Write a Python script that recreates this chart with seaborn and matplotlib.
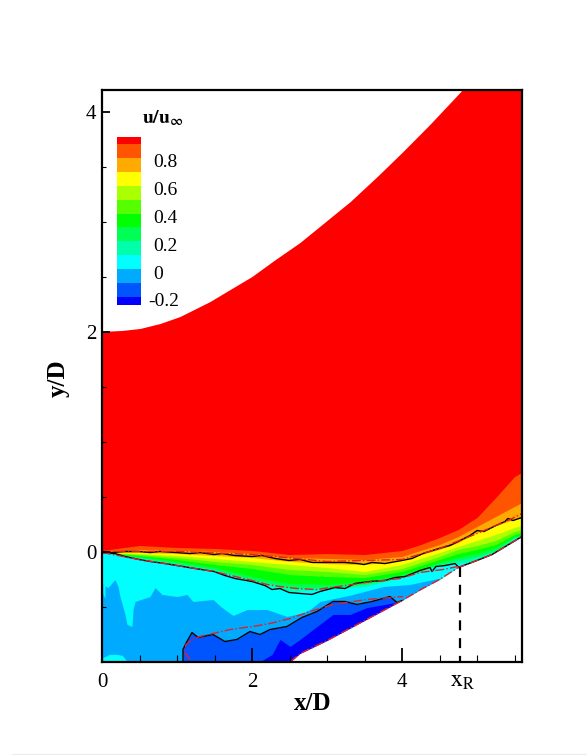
import matplotlib
matplotlib.use('Agg')
import matplotlib.pyplot as plt
from matplotlib.lines import Line2D
import seaborn as sns

# shock edge of the field
top_x = [0, .267, .507, .773, 1.04, 1.44, 1.707, 2, 2.293, 2.64, 3, 3.31, 3.67, 4, 4.37, 4.81, 5.6]
top_y = [2.005, 2.014, 2.032, 2.077, 2.141, 2.277, 2.386, 2.505, 2.65, 2.814, 3.014, 3.186, 3.414, 3.632, 3.886,
         4.205, 4.205]

# wall
wall_x = [2.507, 2.64, 3, 3.5, 4, 4.25, 4.5, 4.75, 5, 5.2, 5.6]
wall_y = [-1, -0.923, -0.805, -0.623, -0.441, -0.341, -0.25, -0.141, -0.077, -0.023, 0.141]

# contour levels read along these stations
stations = [0, 0.5, 1, 1.5, 2, 2.5, 3, 3.5, 4, 4.25, 4.5, 4.75, 5, 5.25, 5.5, 5.6]
level_09 = [.014, .059, .041, .032, .014, -.023, -.014, -.023, .014, .068, .132, .205, .314, .495, .686, .723]
level_08 = [.005, .023, .014, .005, -.014, -.05, -.059, -.068, -.041, .014, .068, .141, .232, .323, .414, .45]
level_07 = [-.005, -.005, -.014, -.032, -.05, -.086, -.105, -.114, -.077, -.023, .023, .086, .177, .241, .295, .314]
level_06 = [-.005, -.014, -.032, -.059, -.086, -.114, -.141, -.177, -.114, -.059, -.005, .05, .105, .159, .223, .241]
level_05 = [-.005, -.023, -.05, -.086, -.114, -.159, -.177, -.205, -.15, -.095, -.041, .023, .059, .105, .186, .205]
level_04 = [-.005, -.032, -.068, -.114, -.15, -.205, -.223, -.232, -.177, -.123, -.068, -.014, .023, .068, .159, .177]
level_03 = [-.005, -.041, -.086, -.141, -.223, -.286, -.295, -.268, -.205, -.15, -.095, -.05, -.014, .041, .141, .159]
level_02 = [-.005, -.05, -.105, -.159, -.25, -.323, -.323, -.295, -.223, -.168, -.114, -.077, -.041, .014, .132, .15]
level_01 = [-.005, -.059, -.114, -.168, -.268, -.359, -.341, -.314, -.232, -.177, -.123, -.105, -.077, -.005, .123,
            .141]

band_colors = ['#ff5500', '#ffaa00', '#ffff00', '#aaff00', '#55ff00', '#00ff00', '#00ff55', '#00ffaa', '#00ffff']
bands = [level_09, level_08, level_07, level_06, level_05, level_04, level_03, level_02, level_01]

# recirculation, u = 0 edge of light blue
blue_x = [0, .08, .173, .213, .24, .307, .333, .4, .413, .44, .64, .707, .8, 1, 1.133, 1.213, 1.48, 1.6, 1.747,
          1.933, 2.2, 2.467, 2.693, 2.773, 2.907, 3.347, 3.747, 4.107, 4.547]
blue_y = [-.295, -.323, -.25, -.314, -.405, -.568, -.659, -.677, -.523, -.45, -.405, -.323, -.386, -.405, -.386,
          -.45, -.432, -.505, -.577, -.523, -.523, -.586, -.55, -.523, -.45, -.386, -.314, -.295, -.232]

blob_x = [1.08, 1.08, 1.133, 1.2, 1.28, 1.48, 1.64, 1.8, 1.973, 2.107, 2.24, 2.467, 2.667, 2.867, 3.08, 3.24, 3.4,
          3.6, 3.84, 3.933, 4]
blob_y = [-1, -.886, -.814, -.732, -.777, -.75, -.814, -.795, -.723, -.75, -.705, -.677, -.595, -.541, -.45, -.45,
          -.477, -.45, -.405, -.459, -.441]

dark_x = [2.133, 2.267, 2.373, 2.507, 2.64, 2.867, 3.08, 3.307, 3.533, 3.773, 3.973]
dark_y = [-.986, -.932, -.795, -.859, -.795, -.677, -.568, -.568, -.505, -.477, -.45]

patch_x = [.01, .1, .2, .27, .33]
patch_y = [-.96, -.93, -.93, -.94, -.99]
sliver_x = [.01, .04]
sliver_y = [-.38, -.42]

# black contour lines
upper_x = [0, .133, .307, .493, .64, .773, 1, 1.173, 1.307, 1.493, 1.6, 1.773, 2, 2.133, 2.307, 2.493, 2.64, 2.8, 3,
           3.24, 3.413, 3.493, 3.6, 3.773, 4, 4.133, 4.28, 4.493, 4.64, 4.747, 4.907, 5, 5.093, 5.253, 5.373, 5.413,
           5.48, 5.6]
upper_y = [-.005, -.005, .005, .005, -.005, .005, -.005, -.014, -.005, -.023, -.014, -.032, -.041, -.032, -.059,
           -.077, -.068, -.095, -.095, -.095, -.105, -.114, -.095, -.105, -.077, -.059, -.014, .032, .059, .095, .15,
           .195, .186, .241, .277, .305, .286, .314]
lower_x = [0, .173, .307, .493, .64, .84, 1, 1.24, 1.493, 1.64, 1.773, 2, 2.173, 2.267, 2.373, 2.493, 2.64, 2.8,
           2.907, 3.107, 3.24, 3.373, 3.573, 3.773, 3.907, 4.04, 4.24, 4.373, 4.4, 4.453, 4.573, 4.707, 4.76]
lower_y = [-.005, -.014, -.041, -.068, -.086, -.105, -.123, -.15, -.177, -.214, -.241, -.268, -.305, -.341, -.332,
           -.368, -.377, -.386, -.359, -.323, -.332, -.286, -.268, -.259, -.232, -.223, -.168, -.141, -.177, -.132,
           -.123, -.105, -.141]

# red dash-dot lines
red1_x = [0, 1, 2, 3, 4, 4.5, 5, 5.44, 5.6]
red1_y = [.005, .005, -.023, -.086, -.068, .032, .168, .295, .35]
red2_x = [0, .493, 1, 1.493, 2, 2.2, 2.373, 2.6, 2.867, 3.04, 3.347, 3.613, 3.973, 4.24, 4.547, 4.747]
red2_y = [-.005, -.068, -.123, -.177, -.259, -.295, -.314, -.332, -.341, -.323, -.295, -.268, -.241, -.186, -.159,
          -.132]
red3_x = [1.173, 1.093, 1.12, 1.2, 1.307, 1.48, 1.707, 2.013, 2.24, 2.507, 2.773, 3.08, 3.533, 4.013]
red3_y = [-.977, -.905, -.841, -.795, -.768, -.741, -.705, -.677, -.65, -.605, -.541, -.477, -.432, -.405]

reattach_x = [4.77, 4.77]
reattach_y = [-.14, -1]

# legend
legend_edges = [.95, .9, .8, .7, .6, .5, .4, .3, .2, .1, 0, -.1, -.2, -.257]
legend_colors = ['#ff0000', '#ff5500', '#ffaa00', '#ffff00', '#aaff00', '#55ff00', '#00ff00', '#00ff55', '#00ffaa',
                 '#00ffff', '#00aaff', '#0055ff', '#0000ff']
legend_ticks = [.8, .6, .4, .2, 0, -.2]
legend_labels = ['0.8', '0.6', '0.4', '0.2', '0', '-0.2']

sns.set_style('ticks')
plt.rcParams['font.family'] = ['Liberation Serif', 'DejaVu Serif']
plt.rcParams['mathtext.fontset'] = 'stix'
plt.rcParams['text.color'] = 'black'
plt.rcParams['axes.labelcolor'] = 'black'
plt.rcParams['xtick.color'] = 'black'
plt.rcParams['ytick.color'] = 'black'

fig = plt.figure(figsize=(5.87, 7.55), dpi=100)
ax = fig.add_axes([102 / 587, 93 / 755, 420 / 587, 572 / 755])
ax.set_axisbelow(False)

ax.fill_between(top_x, top_y, -1, color='#ff0000', lw=0)
for lev, col in zip(bands, band_colors):
    ax.fill_between(stations, lev, -1, color=col, lw=0)
ax.fill_between(blue_x, blue_y, -1, color='#00aaff', lw=0)
ax.fill_between(patch_x, patch_y, -1, color='#00ffff', lw=0)
ax.fill_between(sliver_x, sliver_y, -.3, color='#00ffff', lw=0)
ax.fill_between(blob_x, blob_y, -1, color='#0055ff', lw=0)
ax.fill_between(dark_x, dark_y, -1, color='#0000ff', lw=0)
ax.fill_between(wall_x, wall_y, -1, color='white', lw=0)

for lx, ly in [(upper_x, upper_y), (lower_x, lower_y), (blob_x, blob_y), (wall_x[7:], wall_y[7:])]:
    sns.lineplot(x=lx, y=ly, color='black', lw=1, sort=False, estimator=None, ax=ax)
for lx, ly in [(red1_x, red1_y), (red2_x, red2_y), (red3_x, red3_y), (wall_x, wall_y)]:
    sns.lineplot(x=lx, y=ly, color='#e0202a', lw=1, linestyle='-.', sort=False, estimator=None, ax=ax)
sns.lineplot(x=reattach_x, y=reattach_y, color='black', lw=1.6, linestyle=(0, (4.5, 3.5)), sort=False,
             estimator=None, ax=ax)

ax.set_xlim(0, 5.6)
ax.set_ylim(-1, 4.2)
ax.set_xticks([0, 2, 4])
ax.set_xticks([.5, 1, 1.5, 2.5, 3, 3.5, 4.5, 5, 5.5], minor=True)
ax.set_yticks([0, 2, 4])
ax.set_yticks([-.5, .5, 1, 1.5, 2.5, 3, 3.5], minor=True)
ax.tick_params(axis='x', which='major', direction='in', length=10, width=1.3, labelsize=15, pad=8)
ax.tick_params(axis='x', which='minor', direction='in', length=5, width=0.8)
ax.tick_params(axis='y', which='major', direction='in', length=6, width=1.3, labelsize=15, pad=4)
ax.tick_params(axis='y', which='minor', direction='in', length=3, width=0.8)
for side in ax.spines.values():
    side.set_visible(True)
    side.set_linewidth(1.6)
    side.set_color('black')

ax.set_xlabel('x/D', fontsize=18, fontweight='bold', va='center')
ax.set_ylabel('y/D', fontsize=18, fontweight='bold', va='center')
ax.xaxis.set_label_coords(211 / 420, -41 / 572)
ax.yaxis.set_label_coords(-44 / 420, 284 / 572)
ax.text(361 / 420, -19 / 572, r'$\mathrm{x_R}$', transform=ax.transAxes, ha='center', va='center', fontsize=17)

leg = ax.inset_axes([15 / 420, 357 / 572, 24 / 420, 168 / 572])
for hi, lo, col in zip(legend_edges[:-1], legend_edges[1:], legend_colors):
    leg.barh(lo, 1, height=hi - lo, align='edge', color=col, lw=0)
leg.set_xlim(0, 1)
leg.set_ylim(legend_edges[-1], legend_edges[0])
leg.axis('off')
for val, lab in zip(legend_ticks, legend_labels):
    start = 1.5 if lab != '-0.2' else 1.3
    leg.text(start, val - .035, lab, transform=leg.get_yaxis_transform(), ha='left', va='center', fontsize=14)
ax.text(61 / 420, 544 / 572, r'$\mathbf{u/u_{\infty}}$', transform=ax.transAxes, ha='center', va='center',
        fontsize=14)

fig.add_artist(Line2D([12 / 587, 1], [1 / 755, 1 / 755], color='#ececec', lw=0.8))

plt.savefig('out.png', dpi=100)
